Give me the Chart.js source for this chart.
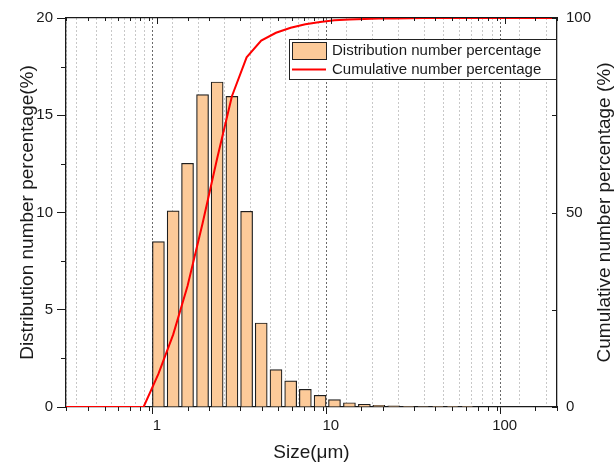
<!DOCTYPE html>
<html lang="en">
<head>
<meta charset="UTF-8">
<title>Size distribution</title>
<script src="https://cdn.jsdelivr.net/npm/chart.js@4.4.1/dist/chart.umd.min.js"></script>
<style>
    body { margin: 0; background: #fff; }
    #wrap { width: 616px; height: 464px; }
</style>
</head>
<body>
<div id="wrap"><canvas id="myChart" width="616" height="464"></canvas></div>

<script>
    // bin centres (µm) and number distribution (%)
    const sizeBins = [1.02, 1.24, 1.50, 1.83, 2.22, 2.70, 3.28, 3.98, 4.84, 5.88, 7.14,
                      8.68, 10.5, 12.8, 15.6, 18.9, 23.0, 28.0, 34.0, 41.3, 50.2, 61.0];
    const distPct = [8.50, 10.08, 12.53, 16.06, 16.71, 15.97, 10.06, 4.32, 1.92, 1.34, 0.91,
                     0.60, 0.38, 0.22, 0.14, 0.09, 0.06, 0.04, 0.03, 0.02, 0.01, 0.01];

    // cumulative curve (red line), right axis
    const cumSizes = [0.3, 0.838, 1.02, 1.24, 1.50, 1.83, 2.22, 2.70, 3.28, 3.98, 4.84, 5.88,
                      7.14, 8.68, 10.5, 12.8, 15.6, 18.9, 23.0, 28.0, 34.0, 41.3, 50.2, 200];
    const cumPct = [0, 0, 8.5, 18.6, 31.1, 47.2, 63.9, 79.9, 89.9, 94.2, 96.2, 97.5,
                    98.4, 99.0, 99.4, 99.6, 99.75, 99.85, 99.9, 99.95, 100, 100, 100, 100];

    const xMin = 0.3, xMax = 200;
    const leftMax = 20, leftStep = 2.5, leftLabelEvery = 5;
    const rightMax = 100, rightStep = 25, rightLabelEvery = 50;

    const barFill = 'rgb(252, 202, 153)';
    const ink = '#1a1a1a';
    const fontFamily = "'Liberation Sans', Arial, sans-serif";

    const isDecade = v => {
        let l = Math.log10(v);
        return Math.abs(l - Math.round(l)) < 1e-6;
    };

    // short minor ticks, plus inward ticks on the top and right frame
    const frameTicks = {
        id: 'frameTicks',
        afterDraw(chart) {
            const {ctx, chartArea: a, scales} = chart;
            const seg = (x1, y1, x2, y2) => {
                ctx.beginPath(); ctx.moveTo(x1, y1); ctx.lineTo(x2, y2); ctx.stroke();
            };
            ctx.save();
            ctx.strokeStyle = ink;
            ctx.lineWidth = 1;
            scales.x.ticks.forEach(t => {
                if (isDecade(t.value)) return;
                let px = Math.round(scales.x.getPixelForValue(t.value)) + 0.5;
                seg(px, a.bottom, px, a.bottom + 4);
            });
            scales.x2.ticks.forEach(t => {
                let px = Math.round(scales.x2.getPixelForValue(t.value)) + 0.5;
                seg(px, a.top, px, a.top + (isDecade(t.value) ? 6 : 3));
            });
            scales.y.ticks.forEach(t => {
                if (t.value % leftLabelEvery === 0) return;
                let py = Math.round(scales.y.getPixelForValue(t.value)) + 0.5;
                seg(a.left - 5, py, a.left, py);
            });
            scales.y1.ticks.forEach(t => {
                let py = Math.round(scales.y1.getPixelForValue(t.value)) + 0.5;
                seg(a.right - 5, py, a.right, py);
            });
            ctx.restore();
        }
    };

    // right title reads bottom-to-top like the left one
    const rightTitle = {
        id: 'rightTitle',
        afterDraw(chart) {
            const {ctx, chartArea: a} = chart;
            ctx.save();
            ctx.translate(605, (a.top + a.bottom) / 2);
            ctx.rotate(-Math.PI / 2);
            ctx.font = '19px ' + fontFamily;
            ctx.fillStyle = ink;
            ctx.textAlign = 'center';
            ctx.textBaseline = 'middle';
            ctx.fillText('Cumulative number percentage (%)', 0, 0);
            ctx.restore();
        }
    };

    // boxed legend in the upper right of the plot
    const boxLegend = {
        id: 'boxLegend',
        afterDraw(chart) {
            const {ctx, chartArea: a} = chart;
            const ds = chart.data.datasets;
            let w = 267, h = 40;
            let left = a.right - 1 - w, top = a.top + 21;
            ctx.save();
            ctx.fillStyle = '#fff';
            ctx.fillRect(left, top, w, h);
            ctx.strokeStyle = '#222';
            ctx.lineWidth = 1;
            ctx.strokeRect(left + 0.5, top + 0.5, w, h);

            ctx.fillStyle = barFill;
            ctx.fillRect(left + 3, top + 3, 34, 17);
            ctx.strokeStyle = '#222';
            ctx.strokeRect(left + 3.5, top + 3.5, 34, 17);

            ctx.strokeStyle = '#ff0000';
            ctx.lineWidth = 2;
            ctx.beginPath();
            ctx.moveTo(left + 3, top + 30.5);
            ctx.lineTo(left + 37, top + 30.5);
            ctx.stroke();

            ctx.font = '15px ' + fontFamily;
            ctx.fillStyle = ink;
            ctx.textBaseline = 'middle';
            ctx.fillText(ds[0].label, left + 43, top + 12);
            ctx.fillText(ds[1].label, left + 43, top + 30.5);
            ctx.restore();
        }
    };

    Chart.defaults.font.family = fontFamily;
    Chart.defaults.font.size = 15;
    Chart.defaults.color = ink;

    let content = document.querySelector('#myChart').getContext('2d');
    let myChart = new Chart(content, {
        type: 'bar',
        data: {
            datasets: [{
                type: 'bar',
                label: 'Distribution number percentage',
                data: sizeBins.map((s, i) => ({x: s, y: distPct[i]})),
                backgroundColor: barFill,
                borderColor: '#1e1e1e',
                borderWidth: 1.2,
                barThickness: 12,
                xAxisID: 'x',
                yAxisID: 'y',
                order: 1
            }, {
                type: 'line',
                label: 'Cumulative number percentage',
                data: cumSizes.map((s, i) => ({x: s, y: cumPct[i]})),
                borderColor: '#ff0000',
                borderWidth: 2,
                pointRadius: 0,
                tension: 0,
                xAxisID: 'x',
                yAxisID: 'y1',
                order: 0
            }]
        },
        options: {
            responsive: false,
            animation: false,
            devicePixelRatio: 1,
            layout: {padding: 0},
            plugins: {legend: {display: false}, tooltip: {enabled: false}},
            scales: {
                x: {
                    type: 'logarithmic',
                    position: 'bottom',
                    min: xMin,
                    max: xMax,
                    afterFit: s => { s.height = 57; },
                    ticks: {
                        autoSkip: false,
                        maxRotation: 0,
                        padding: 3,
                        callback: v => isDecade(v) ? String(Math.round(v)) : ''
                    },
                    grid: {
                        color: c => (c.tick && isDecade(c.tick.value)) ? '#6a6a6a' : '#c8c8c8',
                        lineWidth: 1,
                        tickLength: 7,
                        tickColor: c => (c.tick && isDecade(c.tick.value)) ? ink : 'rgba(0,0,0,0)'
                    },
                    border: {color: ink, width: 1.3, dash: [2, 2]},
                    title: {display: true, text: 'Size(μm)', font: {size: 19}, padding: {top: 0, bottom: 0}}
                },
                x2: {
                    type: 'logarithmic',
                    position: 'top',
                    min: xMin,
                    max: xMax,
                    afterFit: s => { s.height = 18; },
                    ticks: {display: false},
                    grid: {drawOnChartArea: false, drawTicks: false},
                    border: {color: ink, width: 1.3}
                },
                y: {
                    type: 'linear',
                    position: 'left',
                    min: 0,
                    max: leftMax,
                    afterFit: s => { s.width = 66; },
                    ticks: {
                        stepSize: leftStep,
                        autoSkip: false,
                        padding: 4,
                        callback: v => v % leftLabelEvery === 0 ? String(v) : ''
                    },
                    grid: {
                        drawOnChartArea: false,
                        tickLength: 9,
                        tickColor: c => (c.tick && c.tick.value % leftLabelEvery === 0) ? ink : 'rgba(0,0,0,0)'
                    },
                    border: {color: ink, width: 1.3},
                    title: {display: true, text: 'Distribution number percentage(%)', font: {size: 19}, padding: {top: 16, bottom: 0}}
                },
                y1: {
                    type: 'linear',
                    position: 'right',
                    min: 0,
                    max: rightMax,
                    afterFit: s => { s.width = 59; },
                    ticks: {
                        stepSize: rightStep,
                        autoSkip: false,
                        padding: 9,
                        callback: v => v % rightLabelEvery === 0 ? String(v) : ''
                    },
                    grid: {drawOnChartArea: false, drawTicks: false},
                    border: {color: ink, width: 1.3}
                }
            }
        },
        plugins: [frameTicks, rightTitle, boxLegend]
    });
</script>
</body>
</html>
